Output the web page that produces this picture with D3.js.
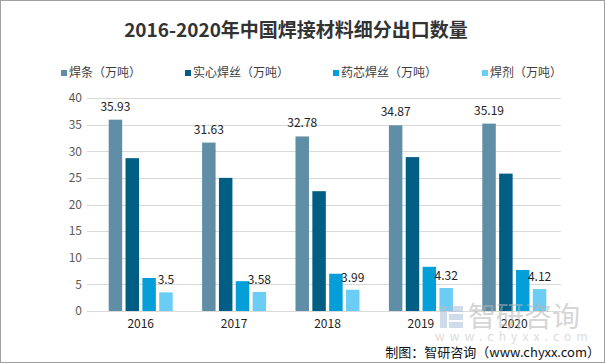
<!DOCTYPE html>
<html><head><meta charset="utf-8">
<script src="https://cdn.jsdelivr.net/npm/d3@7"></script>
<style>
html,body{margin:0;padding:0;background:#fff;}
svg{display:block;}
text{font-family:"Noto Sans CJK SC","Microsoft YaHei",sans-serif;}
</style></head>
<body>
<svg id="c" width="606" height="364"></svg>
<script>
const title = "2016-2020年中国焊接材料细分出口数量";
const years = ["2016","2017","2018","2019","2020"];
const seriesNames = ["焊条（万吨）","实心焊丝（万吨）","药芯焊丝（万吨）","焊剂（万吨）"];
const hanTiao = [35.93, 31.63, 32.78, 34.87, 35.19];
const shiXin = [28.7, 25.0, 22.5, 28.9, 25.8];
const yaoXin = [6.2, 5.6, 7.0, 8.3, 7.7];
const hanJi = [3.5, 3.58, 3.99, 4.32, 4.12];
const yTicks = [0,5,10,15,20,25,30,35,40];
const colors = ["#5f8ea6","#005d83","#049fd9","#6ccdf4"];
const labeled = [true,false,false,true];
const source = "制图：智研咨询（www.chyxx.com）";

const seriesData = [hanTiao, shiXin, yaoXin, hanJi];
const svg = d3.select("#c");

// frame
svg.append("rect").attr("x",0.5).attr("y",0.5).attr("width",604).attr("height",362)
  .attr("fill","#fff").attr("stroke","#a0a0a0").attr("stroke-width",1);

// title
svg.append("text").attr("x",296).attr("y",37).attr("text-anchor","middle")
  .attr("font-size",19).attr("font-weight","bold").attr("fill","#333").text(title);

// legend
const legX = [61, 185, 333, 482];
seriesNames.forEach((n,i)=>{
  svg.append("rect").attr("x",legX[i]).attr("y",70).attr("width",6).attr("height",6).attr("fill",colors[i]);
  svg.append("text").attr("x",legX[i]+8).attr("y",77).attr("font-size",12).attr("fill","#404040").text(n);
});

const y = d3.scaleLinear().domain([0,40]).range([311,98]);
const x = d3.scaleBand().domain(years).range([94,561]);
const xs = d3.scaleBand().domain(d3.range(4)).range([-32,32]).paddingInner(0.2);

// grid
svg.append("g").selectAll("line").data(yTicks).join("line")
  .attr("x1",87).attr("x2",561)
  .attr("y1",d=>Math.round(y(d))+0.5).attr("y2",d=>Math.round(y(d))+0.5)
  .attr("stroke","#d9d9d9").attr("stroke-width",1);

// y axis
const ya = d3.axisLeft(y).tickValues(yTicks).tickSize(0).tickPadding(0);
const yg = svg.append("g").attr("transform","translate(82,0)").call(ya);
yg.select(".domain").remove();
yg.selectAll("text").attr("font-size",12).attr("fill","#595959")
  .attr("font-family","'Open Sans',sans-serif");

// x axis labels
const xa = d3.axisBottom(x).tickSize(0).tickPadding(0);
const xg = svg.append("g").attr("transform","translate(0,319)").call(xa);
xg.select(".domain").remove();
xg.selectAll("text").attr("font-size",12).attr("fill","#222")
  .attr("font-family","'Open Sans',sans-serif");

// bars
seriesData.forEach((vals,si)=>{
  const g = svg.append("g");
  g.selectAll("rect").data(vals).join("rect")
    .attr("x",(d,i)=>x(years[i])+x.bandwidth()/2+xs(si))
    .attr("width",xs.bandwidth())
    .attr("y",d=>y(d)).attr("height",d=>y(0)-y(d))
    .attr("fill",colors[si]);
  if(labeled[si]){
    g.selectAll("text").data(vals).join("text")
      .attr("x",(d,i)=>x(years[i])+x.bandwidth()/2+xs(si)+xs.bandwidth()/2)
      .attr("y",d=>y(d)-(si===0?9:8))
      .attr("text-anchor","middle").attr("font-size",12).attr("fill","#222")
      .attr("font-family","'Open Sans',sans-serif")
      .text(d=>d);
  }
});

// watermark
const wm = svg.append("g").attr("opacity",0.55);
wm.append("rect").attr("x",440).attr("y",306).attr("width",7).attr("height",22).attr("fill","#a9bfd6");
wm.append("rect").attr("x",449).attr("y",306).attr("width",14).attr("height",6).attr("fill","#a9bfd6");
wm.append("rect").attr("x",449).attr("y",314).attr("width",14).attr("height",6).attr("fill","#a9bfd6");
wm.append("rect").attr("x",449).attr("y",322).attr("width",14).attr("height",6).attr("fill","#a9bfd6");
wm.append("text").attr("x",468).attr("y",327).attr("font-size",28).attr("fill","#b5b5b5").text("智研咨询");
wm.append("text").attr("x",435).attr("y",341).attr("font-size",12).attr("fill","#c0c0c0")
  .attr("letter-spacing",5.2).attr("font-family","'Open Sans',sans-serif").text("www.chyxx.com");

// source
svg.append("text").attr("x",600).attr("y",357).attr("text-anchor","end")
  .attr("font-size",13).attr("fill","#111").text(source);
</script>
</body></html>
